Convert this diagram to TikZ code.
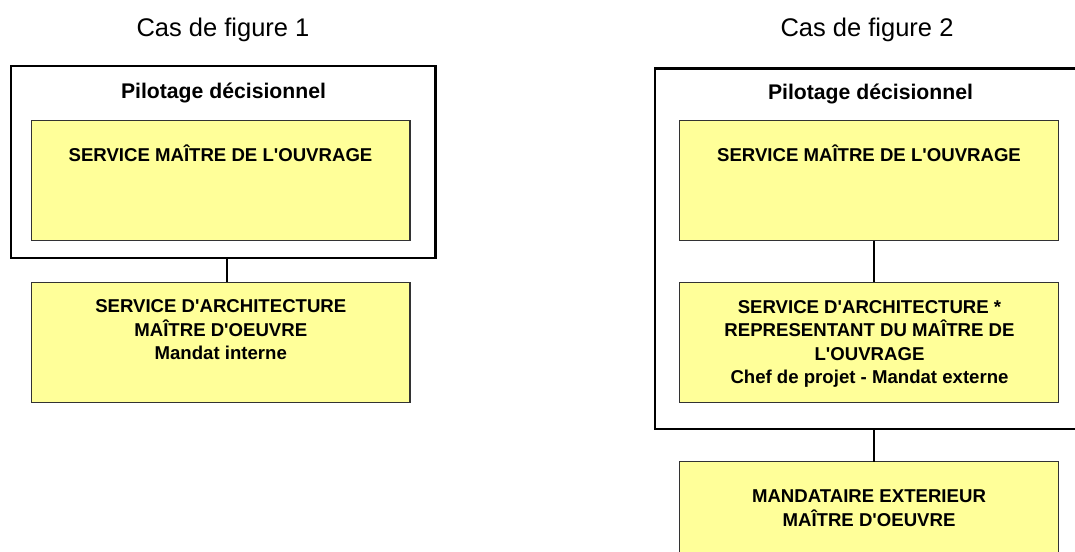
\documentclass[tikz,border=0pt]{standalone}
\usepackage{fontspec}
\setmainfont{Liberation Sans}[Ligatures=TeXOff]
\definecolor{boxyellow}{HTML}{FFFF99}
\definecolor{boxedge}{HTML}{333333}
\begin{document}
\begin{tikzpicture}[x=1pt,y=-1pt,
  ybox/.style={draw=boxedge,line width=1.2pt,fill=boxyellow,rectangle,inner sep=0pt,outer sep=0pt},
  frame/.style={draw=black,line width=2.3pt,rectangle,inner sep=0pt},
  conn/.style={draw=black,line width=2pt},
  title/.style={font=\fontsize{25.5}{30}\selectfont,anchor=base,inner sep=0pt},
  head/.style={font=\bfseries\fontsize{21.2}{25}\selectfont,anchor=base,inner sep=0pt},
  btext/.style={font=\bfseries\fontsize{18.6}{23.5}\selectfont,align=center,anchor=base,inner sep=0pt}]
\useasboundingbox (0,0) rectangle (1075,551);
\clip (0,0) rectangle (1075,551);
\fill[white] (0,0) rectangle (1075,551);

% titles
\node[title] (t1) at (223,36.5) {Cas de figure 1};
\node[title] (t2) at (867,36.5) {Cas de figure 2};

% left column
\node[frame,minimum width=424.5,minimum height=192] (f1) at (223.25,162) {};
\node[ybox,minimum width=378.3,minimum height=120] (b1) at (220.9,180.7) {};
\node[ybox,minimum width=378.3,minimum height=120.4] (b2) at (220.9,342.5) {};
\node[head] (h1) at (223.5,98.3) {Pilotage décisionnel};
\node[btext] (l1) at (220.5,161.7) {SERVICE MAÎTRE DE L'OUVRAGE};
% base anchor of a multi-line node = baseline of its last line
\node[btext] (l2) at (220.8,359.5) {SERVICE D'ARCHITECTURE\\MAÎTRE D'OEUVRE\\Mandat interne};
\coordinate (c1) at (227,0);
\draw[conn] (f1.south -| c1) -- (b2.north -| c1);

% right column
\node[frame,minimum width=435,minimum height=360.5] (f2) at (872.5,248.75) {};
\node[ybox,minimum width=379,minimum height=120] (bA) at (868.8,180.7) {};
\node[ybox,minimum width=379,minimum height=120.4] (bB) at (868.8,342.5) {};
\node[ybox,minimum width=379,minimum height=120] (bC) at (868.8,521.7) {};
\node[head] (h2) at (870.5,99.3) {Pilotage décisionnel};
\node[btext] (rA) at (869,161.7) {SERVICE MAÎTRE DE L'OUVRAGE};
\node[btext] (rB) at (869.5,383.5) {SERVICE D'ARCHITECTURE *\\REPRESENTANT DU MAÎTRE DE\\L'OUVRAGE\\Chef de projet - Mandat externe};
\node[btext] (rC) at (869,526) {MANDATAIRE EXTERIEUR\\MAÎTRE D'OEUVRE};
\coordinate (c2) at (874,0);
\draw[conn] (bA.south -| c2) -- (bB.north -| c2);
\draw[conn] (f2.south -| c2) -- (bC.north -| c2);
\end{tikzpicture}
\end{document}
